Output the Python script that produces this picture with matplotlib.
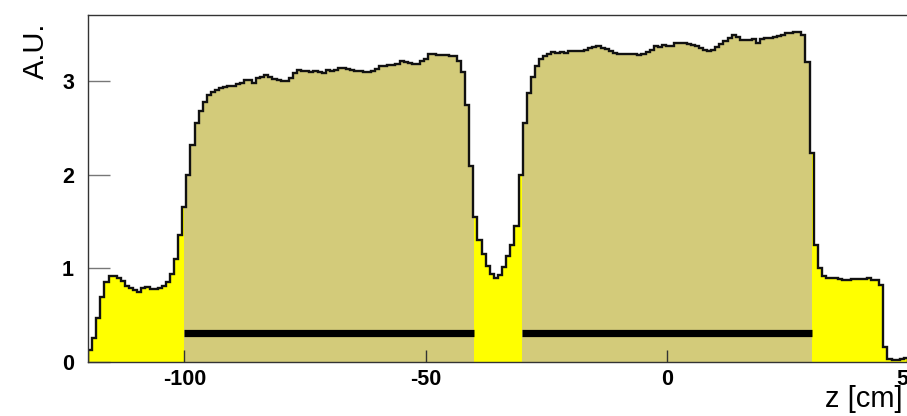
import numpy as np
import matplotlib
matplotlib.use("Agg")
import matplotlib.pyplot as plt
from matplotlib.patches import Rectangle

# ---- data ----
z_min, z_max, n_bins = -120.0, 50.0, 200
counts = [
    0.13, 0.26, 0.47, 0.69, 0.86, 0.92, 0.92, 0.90, 0.87, 0.81,
    0.79, 0.77, 0.75, 0.79, 0.80, 0.78, 0.78, 0.79, 0.81, 0.86,
    0.94, 1.10, 1.36, 1.66, 2.00, 2.32, 2.55, 2.68, 2.78, 2.85,
    2.89, 2.91, 2.93, 2.94, 2.95, 2.95, 2.97, 2.98, 3.01, 3.02,
    2.98, 3.04, 3.05, 3.07, 3.05, 3.03, 3.01, 3.00, 3.00, 3.04,
    3.09, 3.12, 3.11, 3.11, 3.10, 3.11, 3.10, 3.09, 3.12, 3.11,
    3.12, 3.14, 3.14, 3.13, 3.12, 3.11, 3.11, 3.10, 3.10, 3.11,
    3.13, 3.16, 3.16, 3.18, 3.18, 3.19, 3.22, 3.21, 3.20, 3.19,
    3.19, 3.22, 3.24, 3.29, 3.29, 3.28, 3.28, 3.28, 3.27, 3.27,
    3.22, 3.10, 2.75, 2.10, 1.55, 1.30, 1.15, 1.03, 0.94, 0.90,
    0.93, 1.02, 1.13, 1.25, 1.45, 2.00, 2.55, 2.88, 3.05, 3.16,
    3.24, 3.27, 3.29, 3.31, 3.30, 3.31, 3.30, 3.32, 3.33, 3.33,
    3.33, 3.34, 3.36, 3.37, 3.38, 3.36, 3.35, 3.33, 3.30, 3.29,
    3.29, 3.29, 3.29, 3.29, 3.28, 3.29, 3.31, 3.34, 3.38, 3.37,
    3.39, 3.38, 3.38, 3.41, 3.41, 3.41, 3.40, 3.39, 3.38, 3.36,
    3.34, 3.32, 3.34, 3.37, 3.40, 3.43, 3.46, 3.50, 3.48, 3.44,
    3.44, 3.44, 3.45, 3.41, 3.45, 3.46, 3.46, 3.47, 3.49, 3.50,
    3.52, 3.52, 3.53, 3.53, 3.50, 3.21, 2.23, 1.25, 1.00, 0.92,
    0.90, 0.90, 0.90, 0.89, 0.88, 0.88, 0.89, 0.89, 0.89, 0.89,
    0.90, 0.88, 0.88, 0.82, 0.16, 0.03, 0.02, 0.02, 0.03, 0.04,
]
olive_ranges = [(-100.0, -40.0), (-30.0, 30.0)]
bar_level = 0.31
x_ticks = [-100, -50, 0, 50]
y_ticks = [0, 1, 2, 3]
y_max = 3.71
x_label = "z [cm]"
y_label = "A.U."

# ---- figure ----
plt.rcParams["font.family"] = ["Liberation Sans", "DejaVu Sans"]
plt.rcParams["axes.unicode_minus"] = False
W, H = 907, 416
fig = plt.figure(figsize=(W / 100, H / 100), dpi=100)
ax = fig.add_axes([88 / W, 1 - 362 / H, 820 / W, 347 / H])

edges = np.linspace(z_min, z_max, n_bins + 1)
ax.stairs(counts, edges, baseline=0, fill=True, color="#ffff00", lw=0, zorder=1)
for a, b in olive_ranges:
    st = ax.stairs(counts, edges, baseline=0, fill=True, color="#d3cb7a", lw=0, zorder=1.5)
    st.set_clip_path(Rectangle((a, 0), b - a, 10, transform=ax.transData))
    ax.plot([a, b], [bar_level, bar_level], color="black", lw=5.2,
            solid_capstyle="butt", zorder=2)
ax.stairs(counts, edges, baseline=0, fill=False, color="#111111", lw=1.7, zorder=3)

ax.set_xlim(z_min, z_max)
ax.set_ylim(0, y_max)
ax.set_xticks(x_ticks)
ax.set_yticks(y_ticks)
ax.tick_params(axis="x", direction="in", length=9, width=1, color="#333333",
               pad=5, labelsize=15.5)
ax.tick_params(axis="y", direction="in", length=16, width=1, color="#777777",
               pad=10, labelsize=15.5)
for lab in ax.get_xticklabels() + ax.get_yticklabels():
    lab.set_fontweight("bold")
ax.xaxis.set_zorder(5)
ax.yaxis.set_zorder(5)
for s in ax.spines.values():
    s.set_color("#333333")
    s.set_linewidth(1.0)
    s.set_zorder(6)

ax.set_xlabel(x_label, fontsize=21, loc="right")
ax.xaxis.set_label_coords((903 - 88) / 820, (362 - 385) / 347)
ax.set_ylabel(y_label, fontsize=21, loc="top")
ax.yaxis.set_label_coords(-0.047, 0.977)

fig.savefig("out.png", dpi=100)
